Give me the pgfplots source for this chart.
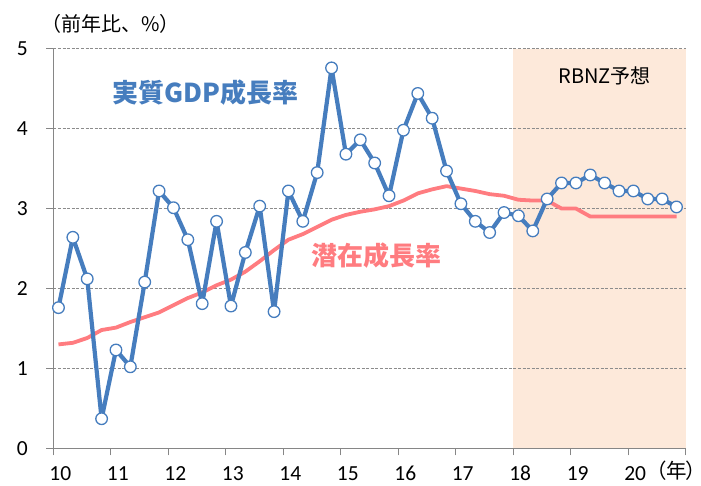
\documentclass[border=0pt]{standalone}
\usepackage{fontspec}
\setmainfont{Carlito}
\newfontfamily\jp{Noto Sans CJK JP}
\newfontfamily\jpp[CharacterWidth=AlternateProportional]{Noto Sans CJK JP}
\usepackage{pgfplots}
\usepackage{pgfplotstable}
\pgfplotsset{compat=1.18}
\definecolor{gdpblue}{RGB}{70,125,190}
\definecolor{potred}{RGB}{255,124,128}
\definecolor{shade}{RGB}{253,233,218}
\definecolor{axgray}{RGB}{134,134,134}
\definecolor{gridgray}{RGB}{140,140,140}
\pgfplotstableread{
x gdp pot
10.09 1.76 1.30
10.34 2.64 1.32
10.59 2.12 1.38
10.84 0.37 1.48
11.09 1.23 1.51
11.34 1.02 1.58
11.59 2.08 1.64
11.84 3.22 1.70
12.09 3.01 1.79
12.34 2.61 1.88
12.59 1.81 1.95
12.84 2.84 2.04
13.09 1.78 2.11
13.34 2.45 2.21
13.59 3.03 2.34
13.84 1.71 2.48
14.09 3.22 2.61
14.34 2.84 2.68
14.59 3.45 2.77
14.84 4.76 2.86
15.09 3.68 2.92
15.34 3.86 2.96
15.59 3.57 2.99
15.84 3.16 3.03
16.09 3.98 3.10
16.34 4.44 3.19
16.59 4.13 3.24
16.84 3.47 3.28
17.09 3.06 3.25
17.34 2.84 3.22
17.59 2.70 3.18
17.84 2.95 3.16
18.09 2.91 3.11
18.34 2.72 3.10
18.59 3.12 3.10
18.84 3.32 3.00
19.09 3.32 3.00
19.34 3.42 2.90
19.59 3.32 2.90
19.84 3.22 2.90
20.09 3.22 2.90
20.34 3.12 2.90
20.59 3.12 2.90
20.84 3.02 2.90
}\datatable
\pgfplotstableread{
x y
18 5
21 5
}\shadetable
\begin{document}
\begin{tikzpicture}
\begin{axis}[
  at={(53.3bp,37.7bp)}, anchor=south west,
  scale only axis, width=632.4bp, height=399.6bp,
  xmin=10, xmax=21, ymin=0, ymax=5,
  set layers,
  axis x line=bottom, axis y line=left,
  axis line style={draw=axgray, line width=1bp, -},
  tick align=outside,
  major tick length=7bp,
  tick style={draw=axgray, line width=1bp},
  xtick={10,11,...,21},
  xticklabels={10,11,12,13,14,15,16,17,18,19,20,},
  ytick={0,1,2,3,4,5},
  ymajorgrids,
  grid style={draw=gridgray, dash pattern=on 3bp off 1.6bp, line width=0.8bp},
  /pgf/number format/assume math mode=true,
  ticklabel style={font=\fontsize{21.5bp}{26bp}\selectfont, text=black},
  xticklabel style={anchor=base, inner sep=0pt, xshift=7bp, yshift=-25bp},
  yticklabel style={xshift=-15bp},
  clip=false,
]
\addplot[on layer=axis background, fill=shade, draw=none] table[x=x, y=y] {\shadetable} \closedcycle;
\addplot[color=potred, line width=3.8bp, line join=round] table[x=x, y=pot] {\datatable};
\addplot[color=gdpblue, line width=4.2bp, line join=round, mark=*, mark size=5.8bp,
  mark options={fill=white, draw=gdpblue, line width=1.3bp}] table[x=x, y=gdp] {\datatable};
\node[font=\jp\fontsize{26bp}{30bp}\selectfont\bfseries, text=gdpblue] at (axis cs:12.645,4.45) {実質GDP成長率};
\node[font=\jp\fontsize{26bp}{30bp}\selectfont\bfseries, text=potred] at (axis cs:15.63,2.41) {潜在成長率};
\node[font=\jp\fontsize{20bp}{24bp}\selectfont, text=black] at (axis cs:19.59,4.66) {RBNZ予想};
\end{axis}
\node[font=\jp\fontsize{20bp}{24bp}\selectfont, anchor=west, inner sep=0pt] at (41bp,462bp) {（前年比、\%）};
\node[font=\jpp\fontsize{20.5bp}{24bp}\selectfont, anchor=base east, inner sep=0pt] at (697bp,7.5bp) {（年）};
\pgfresetboundingbox
\path[use as bounding box] (0,0) rectangle (701bp,486bp);
\end{tikzpicture}
\end{document}
